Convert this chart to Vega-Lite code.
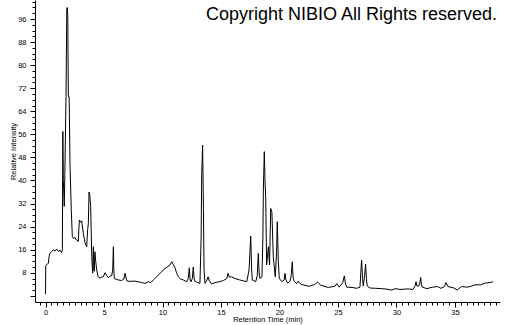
{
  "$schema": "https://vega.github.io/schema/vega-lite/v6.json",
  "autosize": "none",
  "width": 465,
  "height": 302,
  "padding": {"left": 35, "right": 5, "top": 0, "bottom": 23},
  "background": "white",
  "config": {
    "view": {"stroke": null},
    "axis": {
      "grid": false,
      "domainColor": "black",
      "domainWidth": 1,
      "tickColor": "black",
      "tickWidth": 1,
      "labelColor": "black",
      "labelFont": "Liberation Sans",
      "labelFontSize": 7.5,
      "titleFont": "Liberation Sans",
      "titleFontSize": 7.5,
      "titleFontWeight": "normal",
      "titleColor": "black",
      "labelOverlap": false,
      "labelFlush": false
    }
  },
  "resolve": {"axis": {"x": "independent", "y": "independent"}},
  "layer": [
    {
      "data": {
        "values": [
          {"t": 0.0, "i": 0.6}, {"t": 0.02, "i": 10.5}, {"t": 0.15, "i": 11}, {"t": 0.24, "i": 11.2},
          {"t": 0.3, "i": 13.5}, {"t": 0.38, "i": 14.8}, {"t": 0.5, "i": 15.2}, {"t": 0.67, "i": 16.0},
          {"t": 0.8, "i": 15.5}, {"t": 0.96, "i": 16.2}, {"t": 1.1, "i": 15.4}, {"t": 1.25, "i": 15.8},
          {"t": 1.38, "i": 15.0}, {"t": 1.44, "i": 16}, {"t": 1.48, "i": 57}, {"t": 1.52, "i": 40},
          {"t": 1.56, "i": 36}, {"t": 1.6, "i": 31}, {"t": 1.65, "i": 42}, {"t": 1.75, "i": 69},
          {"t": 1.82, "i": 99.7}, {"t": 1.86, "i": 100}, {"t": 1.9, "i": 97}, {"t": 1.95, "i": 69},
          {"t": 2.02, "i": 69}, {"t": 2.09, "i": 46}, {"t": 2.2, "i": 30}, {"t": 2.29, "i": 20.5},
          {"t": 2.4, "i": 19.8}, {"t": 2.5, "i": 20.3}, {"t": 2.6, "i": 19.5}, {"t": 2.67, "i": 19.4},
          {"t": 2.8, "i": 18.8}, {"t": 2.89, "i": 26.3}, {"t": 3.0, "i": 25.5}, {"t": 3.09, "i": 26},
          {"t": 3.23, "i": 21.7}, {"t": 3.38, "i": 18.3}, {"t": 3.52, "i": 17}, {"t": 3.6, "i": 23},
          {"t": 3.66, "i": 25}, {"t": 3.72, "i": 36}, {"t": 3.78, "i": 35}, {"t": 3.86, "i": 31},
          {"t": 3.95, "i": 13.6}, {"t": 4.03, "i": 7.9}, {"t": 4.09, "i": 17}, {"t": 4.13, "i": 9},
          {"t": 4.17, "i": 8.5}, {"t": 4.22, "i": 15.3}, {"t": 4.29, "i": 12}, {"t": 4.37, "i": 9},
          {"t": 4.5, "i": 6.6}, {"t": 4.66, "i": 6.1}, {"t": 4.8, "i": 6.5}, {"t": 4.94, "i": 6.6},
          {"t": 5.09, "i": 8.0}, {"t": 5.2, "i": 7.2}, {"t": 5.37, "i": 6.3}, {"t": 5.5, "i": 6.8},
          {"t": 5.66, "i": 7.0}, {"t": 5.74, "i": 9}, {"t": 5.8, "i": 17}, {"t": 5.84, "i": 9},
          {"t": 5.88, "i": 6.0}, {"t": 6.0, "i": 5.8}, {"t": 6.22, "i": 5.5}, {"t": 6.5, "i": 5.3},
          {"t": 6.7, "i": 5.8}, {"t": 6.8, "i": 7.8}, {"t": 6.94, "i": 5.2}, {"t": 7.2, "i": 5.0},
          {"t": 7.65, "i": 5.1}, {"t": 8.0, "i": 4.8}, {"t": 8.22, "i": 4.6}, {"t": 8.5, "i": 4.3},
          {"t": 8.8, "i": 4.9}, {"t": 9.0, "i": 4.6}, {"t": 9.22, "i": 5.5}, {"t": 9.4, "i": 6.2},
          {"t": 9.64, "i": 7.2}, {"t": 9.9, "i": 8.2}, {"t": 10.2, "i": 9.5}, {"t": 10.4, "i": 10.0},
          {"t": 10.64, "i": 10.7}, {"t": 10.79, "i": 11.8}, {"t": 10.9, "i": 11}, {"t": 11.07, "i": 9.7},
          {"t": 11.2, "i": 8.0}, {"t": 11.35, "i": 6.6}, {"t": 11.55, "i": 5.8}, {"t": 11.78, "i": 5.5},
          {"t": 12.07, "i": 4.9}, {"t": 12.2, "i": 6}, {"t": 12.29, "i": 9.7}, {"t": 12.36, "i": 5.5},
          {"t": 12.44, "i": 4.9}, {"t": 12.55, "i": 6}, {"t": 12.63, "i": 10}, {"t": 12.7, "i": 6},
          {"t": 12.78, "i": 5.0}, {"t": 13.0, "i": 4.6}, {"t": 13.2, "i": 4.3}, {"t": 13.3, "i": 20},
          {"t": 13.35, "i": 42}, {"t": 13.43, "i": 52.3}, {"t": 13.5, "i": 30}, {"t": 13.55, "i": 9},
          {"t": 13.63, "i": 4.3}, {"t": 13.75, "i": 5}, {"t": 13.9, "i": 6.6}, {"t": 14.0, "i": 5.2},
          {"t": 14.2, "i": 4.1}, {"t": 14.5, "i": 4.6}, {"t": 14.9, "i": 4.9}, {"t": 15.2, "i": 5.3},
          {"t": 15.5, "i": 6.0}, {"t": 15.6, "i": 7.8}, {"t": 15.7, "i": 6.5}, {"t": 15.9, "i": 6.6},
          {"t": 16.2, "i": 6.0}, {"t": 16.6, "i": 5.5}, {"t": 16.9, "i": 5.2}, {"t": 17.2, "i": 4.9},
          {"t": 17.4, "i": 9}, {"t": 17.54, "i": 20.7}, {"t": 17.62, "i": 9}, {"t": 17.68, "i": 5.5},
          {"t": 17.97, "i": 4.9}, {"t": 18.1, "i": 7}, {"t": 18.19, "i": 14.7}, {"t": 18.26, "i": 8},
          {"t": 18.33, "i": 6}, {"t": 18.5, "i": 6.6}, {"t": 18.58, "i": 20}, {"t": 18.62, "i": 36.7},
          {"t": 18.7, "i": 50}, {"t": 18.76, "i": 40}, {"t": 18.82, "i": 34.4}, {"t": 18.9, "i": 10.7},
          {"t": 19.05, "i": 17}, {"t": 19.15, "i": 10.7}, {"t": 19.25, "i": 30.3}, {"t": 19.35, "i": 29},
          {"t": 19.47, "i": 13.6}, {"t": 19.64, "i": 6.6}, {"t": 19.75, "i": 15}, {"t": 19.81, "i": 25.7},
          {"t": 19.9, "i": 12}, {"t": 19.98, "i": 6.0}, {"t": 20.2, "i": 4.9}, {"t": 20.4, "i": 5.5},
          {"t": 20.47, "i": 7.8}, {"t": 20.55, "i": 5.5}, {"t": 20.7, "i": 4.4}, {"t": 20.9, "i": 5.0},
          {"t": 21.0, "i": 7}, {"t": 21.09, "i": 11.8}, {"t": 21.17, "i": 6}, {"t": 21.25, "i": 5.2},
          {"t": 21.45, "i": 4.2}, {"t": 21.6, "i": 5.1}, {"t": 21.75, "i": 4.2}, {"t": 22.0, "i": 3.8},
          {"t": 22.5, "i": 3.3}, {"t": 23.0, "i": 3.9}, {"t": 23.26, "i": 4.8}, {"t": 23.5, "i": 3.7},
          {"t": 24.17, "i": 2.9}, {"t": 24.74, "i": 3.3}, {"t": 24.9, "i": 4.2}, {"t": 25.1, "i": 3.0},
          {"t": 25.4, "i": 4.5}, {"t": 25.54, "i": 6.9}, {"t": 25.65, "i": 4}, {"t": 25.75, "i": 3.0},
          {"t": 26.2, "i": 2.9}, {"t": 26.6, "i": 2.6}, {"t": 26.88, "i": 3.0}, {"t": 26.95, "i": 8},
          {"t": 27.02, "i": 12.4}, {"t": 27.1, "i": 6}, {"t": 27.16, "i": 3.4}, {"t": 27.28, "i": 7},
          {"t": 27.36, "i": 11}, {"t": 27.43, "i": 6}, {"t": 27.5, "i": 3.4}, {"t": 27.74, "i": 2.7},
          {"t": 28.2, "i": 2.6}, {"t": 28.7, "i": 2.5}, {"t": 29.2, "i": 2.3}, {"t": 29.6, "i": 2.0},
          {"t": 29.9, "i": 2.5}, {"t": 30.3, "i": 2.2}, {"t": 30.7, "i": 2.3}, {"t": 31.0, "i": 2.4},
          {"t": 31.4, "i": 2.2}, {"t": 31.6, "i": 3.5}, {"t": 31.67, "i": 4.9}, {"t": 31.75, "i": 3.4},
          {"t": 31.9, "i": 3.4}, {"t": 32.0, "i": 4.5}, {"t": 32.07, "i": 6.4}, {"t": 32.13, "i": 4},
          {"t": 32.2, "i": 3.0}, {"t": 32.6, "i": 2.5}, {"t": 33.1, "i": 3.0}, {"t": 33.5, "i": 3.2},
          {"t": 33.8, "i": 2.6}, {"t": 34.1, "i": 3.2}, {"t": 34.23, "i": 4.6}, {"t": 34.4, "i": 3.2},
          {"t": 34.85, "i": 2.8}, {"t": 35.2, "i": 2.0}, {"t": 35.55, "i": 3.2}, {"t": 36.0, "i": 3.0},
          {"t": 36.3, "i": 3.2}, {"t": 36.7, "i": 3.8}, {"t": 37.2, "i": 3.8}, {"t": 37.56, "i": 4.4},
          {"t": 38.0, "i": 4.6}, {"t": 38.27, "i": 4.9}
        ]
      },
      "mark": {"type": "line", "color": "black", "strokeWidth": 1, "interpolate": "linear"},
      "encoding": {
        "x": {
          "field": "t",
          "type": "quantitative",
          "scale": {"domain": [-0.9, 38.85], "nice": false, "zero": false},
          "axis": {
            "title": "Retention Time (min)",
            "values": [-0.5, 0, 0.5, 1, 1.5, 2, 2.5, 3, 3.5, 4, 4.5, 5, 5.5, 6, 6.5, 7, 7.5, 8, 8.5, 9, 9.5, 10, 10.5, 11, 11.5, 12, 12.5, 13, 13.5, 14, 14.5, 15, 15.5, 16, 16.5, 17, 17.5, 18, 18.5, 19, 19.5, 20, 20.5, 21, 21.5, 22, 22.5, 23, 23.5, 24, 24.5, 25, 25.5, 26, 26.5, 27, 27.5, 28, 28.5, 29, 29.5, 30, 30.5, 31, 31.5, 32, 32.5, 33, 33.5, 34, 34.5, 35, 35.5, 36, 36.5, 37, 37.5, 38, 38.5],
            "labelExpr": "datum.value % 5 === 0 ? '' + datum.value : ''",
            "tickSize": {"condition": {"test": "datum.value % 5 === 0", "value": 5}, "value": 3},
            "labelPadding": 1,
            "titlePadding": 0
          }
        },
        "y": {
          "field": "i",
          "type": "quantitative",
          "scale": {"domain": [-2.15, 102.6], "nice": false, "zero": false},
          "axis": {
            "title": "Relative Intensity",
            "values": [0, 2, 4, 6, 8, 10, 12, 14, 16, 18, 20, 22, 24, 26, 28, 30, 32, 34, 36, 38, 40, 42, 44, 46, 48, 50, 52, 54, 56, 58, 60, 62, 64, 66, 68, 70, 72, 74, 76, 78, 80, 82, 84, 86, 88, 90, 92, 94, 96, 98, 100, 102],
            "labelExpr": "datum.value % 8 === 0 && datum.value > 0 ? '' + datum.value : ''",
            "tickSize": {"condition": {"test": "datum.value % 8 === 0", "value": 5}, "value": 3},
            "labelPadding": 4,
            "titlePadding": 0
          }
        }
      }
    },
    {
      "data": {"values": [{"label": "Copyright NIBIO All Rights reserved."}]},
      "mark": {
        "type": "text",
        "align": "right",
        "baseline": "alphabetic",
        "font": "Liberation Sans",
        "fontSize": 18,
        "color": "black"
      },
      "encoding": {
        "x": {"datum": 38.6, "type": "quantitative", "axis": null},
        "y": {"datum": 95.7, "type": "quantitative", "axis": null},
        "text": {"field": "label"}
      }
    }
  ]
}
